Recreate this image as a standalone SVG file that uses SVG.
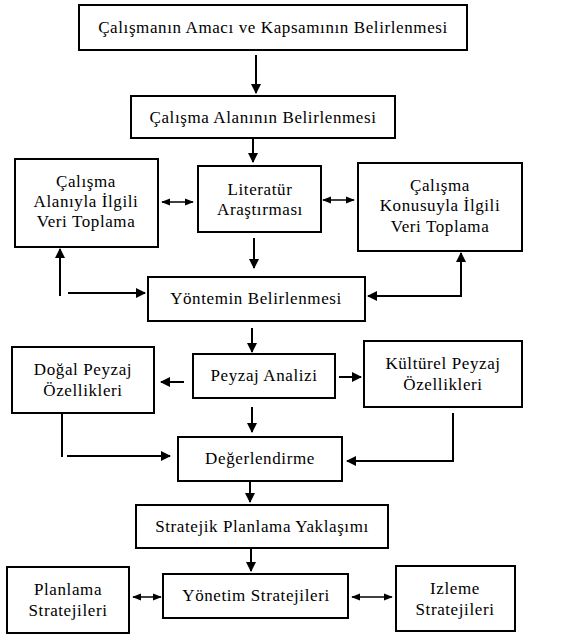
<svg xmlns="http://www.w3.org/2000/svg" width="563" height="637" viewBox="0 0 563 637">
<style>
.b{fill:#fff;stroke:#000;stroke-width:2}
.t{font-size:17px;fill:#000;text-anchor:middle;letter-spacing:0.6px}
.c{fill:none;stroke:#000;stroke-width:2}
.d{fill:none;stroke:#000;stroke-width:1.5}
</style>
<defs>
<marker id="a" viewBox="0 0 10 10" refX="9" refY="5" markerWidth="5" markerHeight="5" orient="auto" markerUnits="strokeWidth"><path d="M0,0L10,5L0,10z" fill="#000"/></marker>
<marker id="s" viewBox="0 0 10 10" refX="9" refY="5" markerWidth="6" markerHeight="6" orient="auto-start-reverse" markerUnits="strokeWidth"><path d="M0,1L10,5L0,9z" fill="#000"/></marker>
</defs>
<rect width="563" height="637" fill="#fff"/>
<g font-family="Liberation Serif, DejaVu Serif, serif">
<g id="n1"><rect class="b" x="79" y="5" width="388" height="45"/><text class="t" x="273" y="33">Çalışmanın Amacı ve Kapsamının Belirlenmesi</text></g>
<g id="n2"><rect class="b" x="131" y="96" width="264" height="42"/><text class="t" x="263" y="123">Çalışma Alanının Belirlenmesi</text></g>
<g id="n3"><rect class="b" x="15" y="159" width="143" height="88"/><text class="t" x="86" y="187">Çalışma</text><text class="t" x="86" y="207">Alanıyla İlgili</text><text class="t" x="86" y="227">Veri Toplama</text></g>
<g id="n4"><rect class="b" x="198" y="166" width="123" height="66"/><text class="t" x="260" y="195">Literatür</text><text class="t" x="260" y="215">Araştırması</text></g>
<g id="n5"><rect class="b" x="358" y="163" width="164" height="88"/><text class="t" x="440" y="191">Çalışma</text><text class="t" x="440" y="211">Konusuyla İlgili</text><text class="t" x="440" y="232">Veri Toplama</text></g>
<g id="n6"><rect class="b" x="148" y="277" width="217" height="44"/><text class="t" x="256" y="304">Yöntemin Belirlenmesi</text></g>
<g id="n7"><rect class="b" x="193" y="354" width="142" height="44"/><text class="t" x="264" y="381">Peyzaj Analizi</text></g>
<g id="n8"><rect class="b" x="12" y="347" width="142" height="66"/><text class="t" x="83" y="375">Doğal Peyzaj</text><text class="t" x="83" y="396">Özellikleri</text></g>
<g id="n9"><rect class="b" x="364" y="341" width="158" height="66"/><text class="t" x="443" y="369">Kültürel Peyzaj</text><text class="t" x="443" y="390">Özellikleri</text></g>
<g id="n10"><rect class="b" x="178" y="437" width="164" height="44"/><text class="t" x="260" y="464">Değerlendirme</text></g>
<g id="n11"><rect class="b" x="136" y="505" width="252" height="43"/><text class="t" x="262" y="532">Stratejik Planlama Yaklaşımı</text></g>
<g id="n12"><rect class="b" x="163" y="574" width="185" height="44"/><text class="t" x="256" y="601">Yönetim Stratejileri</text></g>
<g id="n13"><rect class="b" x="7" y="567" width="122" height="66"/><text class="t" x="68" y="595">Planlama</text><text class="t" x="68" y="616">Stratejileri</text></g>
<g id="n14"><rect class="b" x="396" y="566" width="119" height="65"/><text class="t" x="455" y="594">Izleme</text><text class="t" x="455" y="615">Stratejileri</text></g>
</g>
<g id="connectors">
<line class="c" x1="256" y1="55" x2="256" y2="93" marker-end="url(#a)"/>
<line class="c" x1="253" y1="138" x2="253" y2="162" marker-end="url(#a)"/>
<line class="d" x1="162" y1="202" x2="193" y2="202" marker-start="url(#s)" marker-end="url(#s)"/>
<line class="d" x1="323" y1="200" x2="354" y2="200" marker-start="url(#s)" marker-end="url(#s)"/>
<line class="c" x1="254" y1="238" x2="254" y2="268" marker-end="url(#a)"/>
<line class="c" x1="60" y1="296" x2="60" y2="249" marker-end="url(#a)"/>
<line class="c" x1="68" y1="293" x2="145" y2="293" marker-end="url(#a)"/>
<line class="c" x1="461" y1="297" x2="461" y2="253" marker-end="url(#a)"/>
<line class="c" x1="460" y1="296" x2="368" y2="296" marker-end="url(#a)"/>
<line class="c" x1="252" y1="328" x2="252" y2="352" marker-end="url(#a)"/>
<line class="c" x1="184" y1="382" x2="161" y2="382" marker-end="url(#a)"/>
<line class="c" x1="339" y1="377" x2="361" y2="377" marker-end="url(#a)"/>
<line class="c" x1="252" y1="407" x2="252" y2="432" marker-end="url(#a)"/>
<line class="c" x1="62" y1="413" x2="62" y2="457"/>
<line class="c" x1="67" y1="456" x2="170" y2="456" marker-end="url(#a)"/>
<line class="c" x1="453" y1="413" x2="453" y2="461"/>
<line class="c" x1="454" y1="461" x2="347" y2="461" marker-end="url(#a)"/>
<line class="c" x1="250" y1="481" x2="250" y2="502" marker-end="url(#a)"/>
<line class="c" x1="251" y1="548" x2="251" y2="571" marker-end="url(#a)"/>
<line class="d" x1="133" y1="597" x2="161" y2="597" marker-start="url(#s)" marker-end="url(#s)"/>
<line class="d" x1="352" y1="597" x2="392" y2="597" marker-start="url(#s)" marker-end="url(#s)"/>
</g>
</svg>
